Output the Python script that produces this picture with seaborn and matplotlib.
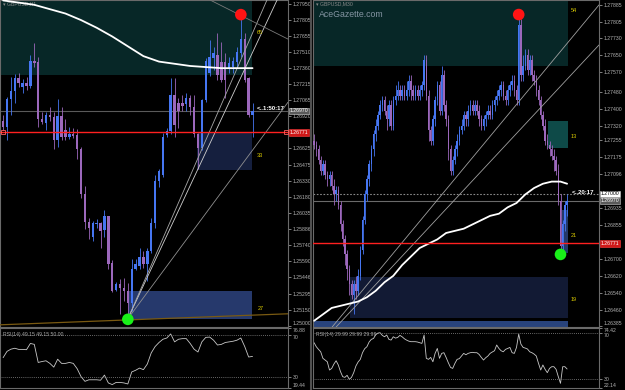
import numpy as np
import pandas as pd
import matplotlib
matplotlib.use("Agg")
import matplotlib.pyplot as plt
from matplotlib.patches import Rectangle
from matplotlib.lines import Line2D
from matplotlib.transforms import blended_transform_factory
import seaborn as sns

# ---------------- GBPUSD H1 (left) ----------------
h1_open = [1.2688, 1.2682, 1.2708, 1.2715, 1.2727, 1.2719, 1.2722, 1.2720, 1.2743, 1.2742,
           1.2689, 1.2686, 1.2693, 1.2691, 1.2670, 1.2692, 1.2679, 1.2673, 1.2676, 1.2675,
           1.2662, 1.2621, 1.2595, 1.2581, 1.2593, 1.2594, 1.2588, 1.2601, 1.2558, 1.2533,
           1.2538, 1.2535, 1.2532, 1.2521, 1.2552, 1.2555, 1.2563, 1.2557, 1.2569, 1.2594,
           1.2633, 1.2638, 1.2675, 1.2678, 1.2711, 1.2704, 1.2704, 1.2703, 1.2709, 1.2700,
           1.2676, 1.2663, 1.2707, 1.2732, 1.2745, 1.2748, 1.2742, 1.2742, 1.2736, 1.2737,
           1.2742, 1.2750, 1.2763, 1.2727, 1.2693]
h1_high = [1.2693, 1.2710, 1.2728, 1.2731, 1.2732, 1.2726, 1.2728, 1.2748, 1.2759, 1.2746,
           1.2696, 1.2696, 1.2700, 1.2696, 1.2708, 1.2700, 1.2689, 1.2682, 1.2681, 1.2680,
           1.2664, 1.2628, 1.2599, 1.2596, 1.2598, 1.2595, 1.2606, 1.2601, 1.2560, 1.2540,
           1.2543, 1.2544, 1.2539, 1.2561, 1.2561, 1.2571, 1.2569, 1.2571, 1.2599, 1.2638,
           1.2644, 1.2677, 1.2681, 1.2727, 1.2727, 1.2709, 1.2711, 1.2713, 1.2711, 1.2711,
           1.2677, 1.2708, 1.2745, 1.2762, 1.2755, 1.2768, 1.2760, 1.2750, 1.2746, 1.2746,
           1.2755, 1.2785, 1.2768, 1.2728, 1.2704]
h1_low = [1.2679, 1.2670, 1.2693, 1.2704, 1.2719, 1.2713, 1.2716, 1.2718, 1.2737, 1.2682,
          1.2685, 1.2679, 1.2688, 1.2662, 1.2664, 1.2670, 1.2670, 1.2671, 1.2672, 1.2653,
          1.2617, 1.2589, 1.2580, 1.2578, 1.2590, 1.2571, 1.2581, 1.2552, 1.2531, 1.2532,
          1.2511, 1.2523, 1.2506, 1.2514, 1.2551, 1.2552, 1.2553, 1.2541, 1.2567, 1.2590,
          1.2627, 1.2636, 1.2673, 1.2676, 1.2673, 1.2681, 1.2697, 1.2697, 1.2693, 1.2673,
          1.2644, 1.2661, 1.2705, 1.2729, 1.2734, 1.2725, 1.2723, 1.2709, 1.2732, 1.2732,
          1.2737, 1.2746, 1.2723, 1.2691, 1.2673]
h1_close = [1.2682, 1.2708, 1.2715, 1.2727, 1.2722, 1.2722, 1.2720, 1.2743, 1.2741, 1.2689,
            1.2687, 1.2693, 1.2691, 1.2670, 1.2692, 1.2673, 1.2673, 1.2676, 1.2674, 1.2662,
            1.2621, 1.2595, 1.2590, 1.2594, 1.2594, 1.2587, 1.2601, 1.2557, 1.2532, 1.2538,
            1.2535, 1.2532, 1.2521, 1.2552, 1.2557, 1.2563, 1.2557, 1.2569, 1.2594, 1.2633,
            1.2642, 1.2673, 1.2678, 1.2711, 1.2684, 1.2697, 1.2701, 1.2709, 1.2700, 1.2676,
            1.2663, 1.2707, 1.2743, 1.2746, 1.2750, 1.2730, 1.2725, 1.2725, 1.2741, 1.2743,
            1.2751, 1.2763, 1.2725, 1.2693, 1.2697]
h1_ma_idx = [0, 4, 8, 12, 16, 20, 24, 28, 32, 36, 40, 44, 48, 52, 56, 60, 64]
h1_ma = [1.2798, 1.2796, 1.2794, 1.2790, 1.2786, 1.2780, 1.2773, 1.2765, 1.2756,
         1.2747, 1.2742, 1.2740, 1.2738, 1.2737, 1.2736, 1.2736, 1.2736]
h1_rsi = [48.5, 54.5, 56.6, 57.5, 56.4, 56.4, 56.1, 62.1, 61.2, 43.9,
          44.8, 45.5, 43.0, 39.4, 47.0, 43.0, 43.0, 43.9, 43.0, 37.9,
          30.3, 25.8, 27.3, 27.3, 27.3, 26.9, 31.8, 24.3, 22.7, 24.8,
          24.8, 24.3, 23.3, 34.8, 36.4, 38.5, 37.0, 42.4, 53.0, 59.1,
          63.0, 66.1, 67.3, 71.2, 63.6, 66.1, 66.7, 66.7, 62.1, 56.6,
          53.9, 63.6, 67.9, 68.2, 65.2, 60.6, 61.2, 63.0, 63.6, 64.2,
          65.2, 67.3, 59.1, 49.1, 49.7]
h1_ticks = [1.27950, 1.27805, 1.27655, 1.27510, 1.27360, 1.27215, 1.27065, 1.26920,
            1.26625, 1.26475, 1.26330, 1.26180, 1.26035, 1.25886, 1.25740, 1.25590,
            1.25446, 1.25295, 1.25150, 1.25000]
h1_zone_x0 = [-0.8, 49.7, 32.1]
h1_zone_x1 = [63.8, 63.8, 63.8]
h1_zone_lo = [1.27296, 1.26424, 1.25065]
h1_zone_hi = [1.27990, 1.26763, 1.25322]
h1_zone_col = ["#072727", "#151f3e", "#26396c"]
h1_zone_txt = ["65", "33", "27"]
h1_zone_txt_y = [1.2769, 1.2656, 1.2516]
h1_fan_x = [[32, 70.3], [32, 67.7], [32, 73.1]]
h1_fan_y = [[1.25065, 1.27984], [1.25065, 1.27984], [1.25065, 1.27048]]
h1_desc_x = [53.1, 73.1]
h1_desc_y = [1.27984, 1.27626]
h1_base_x = [-0.8, 73.1]
h1_base_y = [1.25010, 1.25111]
h1_top, h1_bottom = 61, 32

# ---------------- GBPUSD M30 (right) ----------------
m30_open = [1.2725, 1.2723, 1.2721, 1.2716, 1.2711, 1.2714, 1.2709, 1.2707, 1.2709, 1.2704,
            1.2700, 1.2702, 1.2695, 1.2686, 1.2679, 1.2672, 1.2665, 1.2658, 1.2653, 1.2658,
            1.2655, 1.2662, 1.2674, 1.2688, 1.2700, 1.2707, 1.2714, 1.2721, 1.2728, 1.2732,
            1.2737, 1.2742, 1.2744, 1.2739, 1.2735, 1.2742, 1.2732, 1.2744, 1.2746, 1.2749,
            1.2746, 1.2749, 1.2746, 1.2749, 1.2753, 1.2749, 1.2746, 1.2749, 1.2746, 1.2749,
            1.2751, 1.2763, 1.2746, 1.2730, 1.2725, 1.2735, 1.2744, 1.2751, 1.2739, 1.2756,
            1.2742, 1.2735, 1.2721, 1.2711, 1.2716, 1.2721, 1.2725, 1.2730, 1.2732, 1.2737,
            1.2735, 1.2739, 1.2742, 1.2739, 1.2742, 1.2739, 1.2735, 1.2732, 1.2735, 1.2737,
            1.2739, 1.2737, 1.2742, 1.2744, 1.2746, 1.2749, 1.2751, 1.2746, 1.2744, 1.2749,
            1.2751, 1.2753, 1.2749, 1.2744, 1.2779, 1.2756, 1.2760, 1.2765, 1.2758, 1.2763,
            1.2756, 1.2753, 1.2749, 1.2744, 1.2737, 1.2732, 1.2725, 1.2723, 1.2721, 1.2718,
            1.2716, 1.2711, 1.2697, 1.2676, 1.2686, 1.2695]
m30_close = [1.2723, 1.2721, 1.2716, 1.2711, 1.2714, 1.2709, 1.2707, 1.2709, 1.2704, 1.2700,
             1.2702, 1.2695, 1.2686, 1.2679, 1.2672, 1.2665, 1.2658, 1.2653, 1.2658, 1.2655,
             1.2662, 1.2674, 1.2688, 1.2700, 1.2707, 1.2714, 1.2721, 1.2728, 1.2732, 1.2737,
             1.2742, 1.2744, 1.2739, 1.2735, 1.2742, 1.2732, 1.2744, 1.2746, 1.2749, 1.2746,
             1.2749, 1.2746, 1.2749, 1.2753, 1.2749, 1.2746, 1.2749, 1.2746, 1.2749, 1.2751,
             1.2763, 1.2746, 1.2730, 1.2725, 1.2735, 1.2744, 1.2751, 1.2739, 1.2756, 1.2742,
             1.2735, 1.2721, 1.2711, 1.2716, 1.2721, 1.2725, 1.2730, 1.2732, 1.2737, 1.2735,
             1.2739, 1.2742, 1.2739, 1.2742, 1.2739, 1.2735, 1.2732, 1.2735, 1.2737, 1.2739,
             1.2737, 1.2742, 1.2744, 1.2746, 1.2749, 1.2751, 1.2746, 1.2744, 1.2749, 1.2751,
             1.2753, 1.2749, 1.2744, 1.2779, 1.2756, 1.2760, 1.2765, 1.2758, 1.2763, 1.2756,
             1.2753, 1.2749, 1.2744, 1.2737, 1.2732, 1.2725, 1.2723, 1.2721, 1.2718, 1.2716,
             1.2711, 1.2697, 1.2676, 1.2686, 1.2695, 1.2697]
m30_high = [1.2728, 1.2725, 1.2723, 1.2718, 1.2716, 1.2716, 1.2711, 1.2711, 1.2711, 1.2707,
            1.2704, 1.2704, 1.2697, 1.2688, 1.2681, 1.2674, 1.2667, 1.2660, 1.2660, 1.2662,
            1.2665, 1.2676, 1.2690, 1.2702, 1.2709, 1.2716, 1.2723, 1.2730, 1.2735, 1.2739,
            1.2744, 1.2746, 1.2746, 1.2742, 1.2744, 1.2744, 1.2746, 1.2751, 1.2753, 1.2751,
            1.2751, 1.2751, 1.2753, 1.2756, 1.2756, 1.2751, 1.2751, 1.2751, 1.2751, 1.2753,
            1.2765, 1.2765, 1.2749, 1.2732, 1.2737, 1.2746, 1.2753, 1.2753, 1.2760, 1.2758,
            1.2744, 1.2737, 1.2723, 1.2718, 1.2723, 1.2728, 1.2732, 1.2735, 1.2739, 1.2739,
            1.2742, 1.2744, 1.2744, 1.2744, 1.2744, 1.2742, 1.2737, 1.2737, 1.2739, 1.2742,
            1.2742, 1.2744, 1.2746, 1.2749, 1.2751, 1.2753, 1.2753, 1.2749, 1.2751, 1.2753,
            1.2756, 1.2756, 1.2751, 1.2784, 1.2782, 1.2765, 1.2768, 1.2768, 1.2765, 1.2765,
            1.2758, 1.2756, 1.2751, 1.2746, 1.2739, 1.2735, 1.2728, 1.2725, 1.2723, 1.2721,
            1.2718, 1.2714, 1.2700, 1.2688, 1.2697, 1.2700]
m30_low = [1.2721, 1.2718, 1.2714, 1.2709, 1.2709, 1.2707, 1.2704, 1.2704, 1.2702, 1.2695,
           1.2697, 1.2693, 1.2683, 1.2676, 1.2667, 1.2660, 1.2653, 1.2651, 1.2644, 1.2651,
           1.2653, 1.2660, 1.2672, 1.2686, 1.2697, 1.2704, 1.2711, 1.2718, 1.2725, 1.2730,
           1.2735, 1.2739, 1.2737, 1.2730, 1.2732, 1.2730, 1.2730, 1.2742, 1.2744, 1.2744,
           1.2744, 1.2744, 1.2744, 1.2746, 1.2744, 1.2744, 1.2744, 1.2744, 1.2744, 1.2746,
           1.2749, 1.2744, 1.2725, 1.2723, 1.2723, 1.2732, 1.2742, 1.2737, 1.2737, 1.2739,
           1.2732, 1.2716, 1.2709, 1.2709, 1.2714, 1.2718, 1.2723, 1.2728, 1.2730, 1.2732,
           1.2732, 1.2737, 1.2737, 1.2737, 1.2737, 1.2732, 1.2730, 1.2730, 1.2732, 1.2735,
           1.2735, 1.2735, 1.2739, 1.2742, 1.2744, 1.2746, 1.2744, 1.2742, 1.2742, 1.2746,
           1.2749, 1.2746, 1.2742, 1.2742, 1.2753, 1.2753, 1.2758, 1.2756, 1.2756, 1.2753,
           1.2751, 1.2746, 1.2742, 1.2735, 1.2730, 1.2723, 1.2721, 1.2718, 1.2716, 1.2711,
           1.2709, 1.2695, 1.2672, 1.2674, 1.2683, 1.2690]
m30_ma_idx = [0, 4, 8, 12, 16, 20, 24, 28, 32, 36, 40, 44, 48, 52, 56, 60,
              64, 68, 72, 76, 80, 84, 88, 92, 96, 100, 104, 108, 112, 115]
m30_ma = [1.2641, 1.2644, 1.2647, 1.2648, 1.2649, 1.2650, 1.2652, 1.2655, 1.2659, 1.2662,
          1.2667, 1.2671, 1.2675, 1.2677, 1.2679, 1.2682, 1.2683, 1.2684, 1.2686, 1.2688,
          1.2690, 1.2691, 1.2694, 1.2696, 1.2700, 1.2703, 1.2705, 1.2706, 1.2706, 1.2705]
m30_rsi = [61.6, 58.1, 55.8, 53.7, 48.0, 46.5, 45.0, 37.8, 39.2, 43.0,
           45.9, 42.2, 36.4, 32.0, 31.4, 33.2, 29.7, 31.4, 35.5, 41.3,
           44.8, 47.1, 52.9, 56.4, 58.1, 62.2, 64.5, 65.3, 68.5, 70.0,
           70.3, 68.0, 66.8, 68.3, 64.5, 63.9, 66.8, 65.6, 66.2, 68.0,
           66.8, 65.1, 63.9, 63.0, 62.5, 62.5, 62.5, 62.2, 61.6, 61.0,
           68.3, 48.0, 47.1, 48.8, 45.0, 52.3, 56.6, 48.0, 52.3, 52.9,
           48.8, 44.2, 40.1, 39.2, 43.6, 47.1, 47.7, 50.0, 52.3, 51.1,
           52.3, 52.9, 53.2, 52.9, 52.9, 51.4, 48.8, 46.5, 48.5, 50.0,
           52.3, 53.5, 54.6, 59.6, 56.6, 54.6, 53.7, 55.8, 56.6, 57.5,
           52.9, 52.3, 57.5, 69.1, 60.4, 57.5, 56.9, 56.1, 53.7, 52.9,
           51.7, 50.0, 43.6, 37.8, 42.2, 38.4, 35.5, 39.2, 40.7, 40.7,
           38.4, 32.0, 26.2, 40.7, 40.7, 38.7]
m30_ticks = [1.27885, 1.27805, 1.27730, 1.27650, 1.27570, 1.27480, 1.27400, 1.27320,
             1.27255, 1.27175, 1.27096, 1.26935, 1.26855, 1.26700, 1.26620, 1.26540,
             1.26460, 1.26385]
m30_zone_x0 = [-0.5, 106.4, 16.4, -0.5, 112.7]
m30_zone_x1 = [115.5, 115.5, 115.5, 115.5, 115.5]
m30_zone_lo = [1.27600, 1.27217, 1.26423, 1.26381, 1.26727]
m30_zone_hi = [1.27910, 1.27343, 1.26614, 1.26409, 1.26927]
m30_zone_col = ["#072727", "#0e4a48", "#121a34", "#28437c", "#24396a"]
m30_zone_txt = ["54", "13", "19", "21"]
m30_zone_txt_y = [1.2786, 1.2727, 1.2651, 1.2681]
m30_chan_x = [[8.2, 129.5], [10.0, 129.5]]
m30_chan_y = [[1.26381, 1.27885], [1.26381, 1.27698]]
m30_top, m30_bottom = 93, 112

level_red = 1.26771

BLUE = "#4676f2"
PURPLE = "#9c68bc"
GRID = "#6a6a6a"
TXT = "#b4b4b4"
FS = 3.7

sns.set_theme(style="dark", rc={
    "axes.facecolor": "black", "figure.facecolor": "black",
    "axes.edgecolor": GRID, "axes.grid": False,
    "xtick.color": TXT, "ytick.color": TXT,
})
plt.rcParams["font.family"] = ["Liberation Sans", "DejaVu Sans"]

fig = plt.figure(figsize=(6.25, 3.9), dpi=100)
W, H = 625.0, 390.0


def add_ax(x0, x1, y0, y1):
    return fig.add_axes([x0 / W, 1 - y1 / H, (x1 - x0) / W, (y1 - y0) / H])


def style_ax(ax):
    ax.set_xticks([])
    ax.yaxis.tick_right()
    ax.tick_params(axis="y", labelsize=FS, colors=TXT, length=2, width=0.5, pad=1.2)
    for s in ax.spines.values():
        s.set_color(GRID)
        s.set_linewidth(0.8)
    ax.set_xlabel("")
    ax.set_ylabel("")


def candles(ax, o, h, l, c, width, min_h):
    o, h, l, c = map(np.asarray, (o, h, l, c))
    x = np.arange(len(o))
    cols = np.where(c >= o, BLUE, PURPLE)
    ax.vlines(x, l, h, colors=cols, lw=0.6, zorder=3)
    ax.bar(x, np.maximum(np.abs(c - o), min_h), width, np.minimum(o, c),
           color=cols, lw=0, zorder=4)


def zones(ax, x0, x1, lo, hi, cols):
    for a, b, p, q, col in zip(x0, x1, lo, hi, cols):
        ax.add_patch(Rectangle((a, p), b - a, q - p, facecolor=col, edgecolor="none", zorder=0))


def price_box(ax, y, text, fc, tc="white", ec="#c8c8c8"):
    tr = blended_transform_factory(ax.transAxes, ax.transData)
    ax.text(1.006, y, text, transform=tr, fontsize=FS, color=tc, va="center", ha="left",
            bbox=dict(facecolor=fc, edgecolor=ec, lw=0.4, pad=0.5), zorder=10, clip_on=False)


def rsi_panel(ax, values, lo, hi, label):
    df = pd.DataFrame({"bar": np.arange(len(values)), "rsi": values})
    sns.lineplot(data=df, x="bar", y="rsi", ax=ax, color="#c8c8c8", lw=0.6)
    for lvl in (30, 70):
        ax.axhline(lvl, color="#8a8a8a", lw=0.6, ls=(0, (1, 1.5)))
    ax.set_ylim(lo, hi)
    ax.set_yticks([lo, 30, 70, hi])
    ax.set_yticklabels([f"{lo:.2f}", "30", "70", f"{hi:.2f}"])
    ax.text(0.012, 0.93, label, transform=ax.transAxes, fontsize=3.7, color="#a8a8a8", va="top")
    style_ax(ax)
    labels = ax.get_yticklabels()
    labels[0].set_va("bottom")
    labels[2].set_va("top")
    labels[-1].set_va("top")


# ---------- left panel ----------
ax1 = add_ax(0, 288, 0, 327)
r1 = add_ax(0, 288, 328, 388)
ax1.set_xlim(-0.8, 73.1)
ax1.set_ylim(1.24990, 1.27984)
zones(ax1, h1_zone_x0, h1_zone_x1, h1_zone_lo, h1_zone_hi, h1_zone_col)
ax1.axhline(h1_close[-1], color="#5a5a5a", lw=0.8, zorder=1)
for fx, fy, col in zip(h1_fan_x, h1_fan_y, ["#d0d0d0", "#a8a8a8", "#909090"]):
    ax1.plot(fx, fy, color=col, lw=0.6, zorder=5)
ax1.plot(h1_desc_x, h1_desc_y, color="#7a7a7a", lw=0.6, zorder=5)
ax1.plot(h1_base_x, h1_base_y, color="#7a5a12", lw=0.9, zorder=5)
candles(ax1, h1_open, h1_high, h1_low, h1_close, 0.62, 0.00009)
sns.lineplot(x=h1_ma_idx, y=h1_ma, ax=ax1, color="white", lw=1.3, zorder=6)
ax1.axhline(level_red, color="#ff2020", lw=1.0, zorder=7)
ax1.plot([0.0, 72.6], [level_red, level_red], ls="none", marker="s", ms=2.5,
         mfc="none", mec="#ff6060", mew=0.6, zorder=8)
sns.scatterplot(x=[h1_top], y=[h1_high[h1_top]], ax=ax1, s=70, color="#ff1414",
                edgecolor="none", zorder=9)
sns.scatterplot(x=[h1_bottom], y=[h1_low[h1_bottom]], ax=ax1, s=70, color="#19f019",
                edgecolor="none", zorder=9)
for t, y in zip(h1_zone_txt, h1_zone_txt_y):
    ax1.text(65.2, y, t, fontsize=4, color="#d8c800", va="center", zorder=9)
ax1.text(65.2, 1.2699, "<..1:50:17", fontsize=4.4, color="white", weight="bold",
         va="center", zorder=9)
ax1.text(0.012, 0.995, "\u25be GBPUSD,H1", transform=ax1.transAxes, fontsize=3.7,
         color="#8a8a8a", va="top")
ax1.set_yticks(h1_ticks)
ax1.set_yticklabels([f"{t:.5f}" for t in h1_ticks])
style_ax(ax1)
ax1.get_yticklabels()[-1].set_va("bottom")
price_box(ax1, h1_close[-1], "1.26970", "#5a5a5a")
price_box(ax1, level_red, "1.26771", "#d01818", ec="#ff4040")

r1.set_xlim(-0.8, 73.1)
rsi_panel(r1, h1_rsi, 19.44, 76.88, "RSI(14) 49.15 49.15 50.00")

# ---------- right panel ----------
ax2 = add_ax(313, 599, 0, 327)
r2 = add_ax(313, 599, 328, 388)
ax2.set_xlim(-0.5, 129.5)
ax2.set_ylim(1.26381, 1.27908)
zones(ax2, m30_zone_x0, m30_zone_x1, m30_zone_lo, m30_zone_hi, m30_zone_col)
ax2.axhline(m30_close[-1], color="#6a6a6a", lw=0.8, zorder=1)
ax2.axhline(1.27000, color="#8a8a8a", lw=0.8, ls=(0, (1.5, 1.5)), zorder=1)
for cx, cy in zip(m30_chan_x, m30_chan_y):
    ax2.plot(cx, cy, color="#a0a0a0", lw=0.6, zorder=5)
candles(ax2, m30_open, m30_high, m30_low, m30_close, 0.6, 0.00005)
sns.lineplot(x=m30_ma_idx, y=m30_ma, ax=ax2, color="white", lw=1.3, zorder=6)
ax2.axhline(level_red, color="#ff2020", lw=1.0, zorder=7)
sns.scatterplot(x=[m30_top], y=[m30_high[m30_top]], ax=ax2, s=70, color="#ff1414",
                edgecolor="none", zorder=9)
sns.scatterplot(x=[m30_bottom], y=[m30_low[m30_bottom]], ax=ax2, s=70, color="#19f019",
                edgecolor="none", zorder=9)
for t, y in zip(m30_zone_txt, m30_zone_txt_y):
    ax2.text(116.6, y, t, fontsize=4, color="#d8c800", va="center", zorder=9)
ax2.text(117.3, 1.2701, "<..20:17", fontsize=4.4, color="white", weight="bold",
         va="center", zorder=9)
ax2.text(0.012, 0.995, "\u25be GBPUSD,M30", transform=ax2.transAxes, fontsize=3.7,
         color="#8a8a8a", va="top")
ax2.text(0.02, 0.968, "AceGazette.com", transform=ax2.transAxes, fontsize=6.3,
         color="#8494a2", va="top")
ax2.set_yticks(m30_ticks)
ax2.set_yticklabels([f"{t:.5f}" for t in m30_ticks])
style_ax(ax2)
ax2.get_yticklabels()[-1].set_va("bottom")
price_box(ax2, 1.27003, "1.27000", "white", tc="black")
price_box(ax2, m30_close[-1], "1.26970", "#5a5a5a")
price_box(ax2, level_red, "1.26771", "#d01818", ec="#ff4040")

r2.set_xlim(-0.5, 129.5)
rsi_panel(r2, m30_rsi, 22.14, 74.42, "RSI(14) 29.99 29.99 29.99")

fig.add_artist(Line2D([311 / W, 311 / W], [0, 1], color="#505050", lw=1.5))

fig.savefig("out.png", dpi=100, facecolor="black")
